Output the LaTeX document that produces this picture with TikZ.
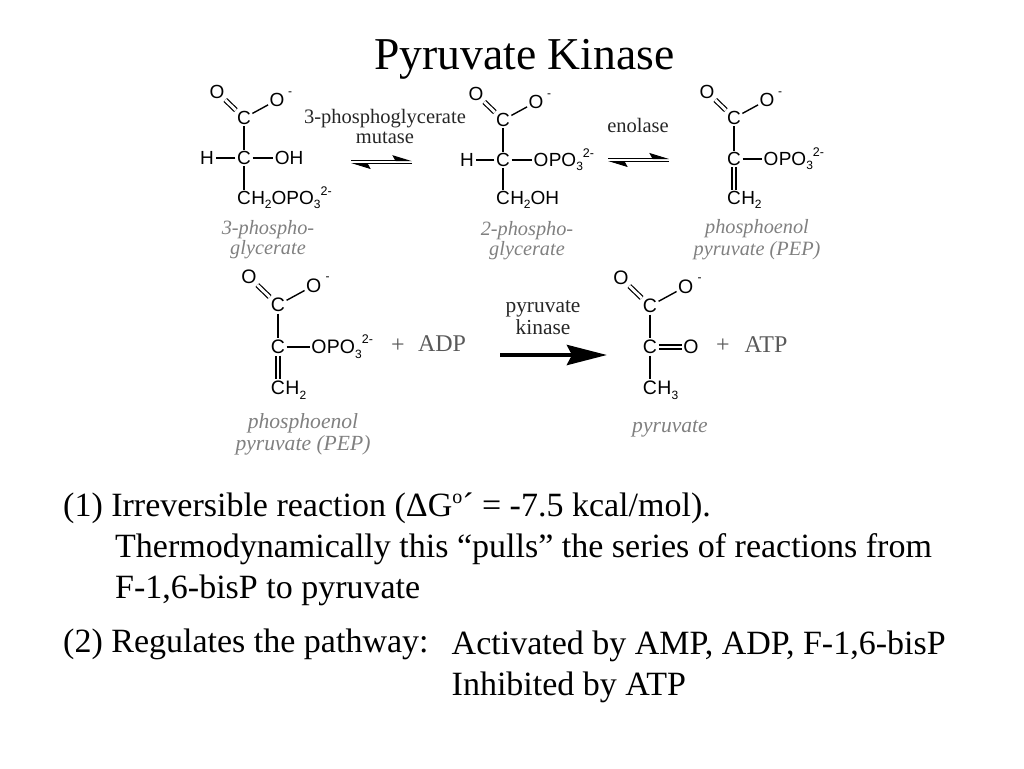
\documentclass[tikz,border=0pt]{standalone}
\usepackage{fontspec}
\setmainfont{Liberation Serif}
\setsansfont{Liberation Sans}
\usetikzlibrary{arrows.meta,positioning}
\newcommand{\subs}[1]{\raisebox{-0.22em}{\fontsize{12}{12}\selectfont #1}}
\newcommand{\sups}[1]{\raisebox{0.5em}{\fontsize{12.5}{12.5}\selectfont #1}}
\tikzset{
atom/.style={inner sep=0pt,font=\sffamily\fontsize{19}{19}\selectfont},
atomb/.style={inner sep=0pt,font=\sffamily\fontsize{19.5}{19.5}\selectfont},
tail/.style={anchor=base west},
charge/.style={inner sep=0pt,font=\sffamily\fontsize{12}{12}\selectfont},
bond/.style={line width=1.4pt,shorten >=1.5pt,shorten <=1.5pt},
dbond/.style={bond,double,double distance=2.8pt,line width=1.2pt},
enzyme/.style={inner sep=0pt,text height=.7em,text depth=.2em,text=black!85,font=\fontsize{20.5}{20.5}\selectfont},
label/.style={inner sep=0pt,text height=.7em,text depth=.2em,text=black!50,font=\itshape\fontsize{20.3}{20.3}\selectfont},
labelb/.style={label,font=\itshape\fontsize{21.6}{21.6}\selectfont},
other/.style={inner sep=0pt,text=black!65,font=\fontsize{24}{24}\selectfont},
note/.style={anchor=base west,inner sep=0pt,font=\fontsize{34}{34}\selectfont},
eqline/.style={line width=1pt,-{Stealth[harpoon,length=18pt,width=11pt,inset=3pt]}},
}
\begin{document}
\begin{tikzpicture}[x=1pt,y=-1pt]
\useasboundingbox (0,0) rectangle (1024,768);

% #1 prefix, #2 x, #3 y, #4 style, #5 scale of the offsets
\newcommand{\carboxyl}[5]
{
\node[#4] (#1c) at (#2,#3) {C};
\node[#4] (#1o) at (#2-27*#5,#3-26*#5) {O};
\node[#4] (#1m) at (#2+33*#5,#3-18*#5) {O};
\node[charge] (#1q) at (#2+46*#5,#3-24*#5) {-};
\draw[dbond] (#1c) -- (#1o);
\draw[bond] (#1c) -- (#1m);
}

\node[font=\fontsize{45.6}{45.6}\selectfont,inner sep=0pt] (title) at (524.5,59) {Pyruvate Kinase};

% 3-phosphoglycerate
\carboxyl{a}{244}{118}{atom}{1}
\node[atom] (ac2) at (244,158) {C};
\node[atom] (ah) at (207,158) {H};
\node[atom] (aoh) at (289,158) {OH};
\node[atom] (ac3) at (244,198) {C};
\node[atom,tail] (ar) at (ac3.base east) {H\subs{2}OPO\subs{3}\sups{2-}};
\draw[bond] (ac) -- (ac2);
\draw[bond] (ac2) -- (ah);
\draw[bond] (ac2) -- (aoh);
\draw[bond] (ac2) -- (ac3);
\node[label] (al1) at (268,232) {3-phospho-};
\node[label] (al2) at (268,252) {glycerate};

% mutase
\node[enzyme] (mut1) at (385,121) {3-phosphoglycerate};
\node[enzyme] (mut2) at (385,141) {mutase};
\coordinate (m1) at (351,160.7);
\coordinate (m2) at (412,160.7);
\coordinate (m3) at (412,163.5);
\coordinate (m4) at (351,163.5);
\draw[eqline] (m1) -- (m2);
\draw[eqline] (m3) -- (m4);

% 2-phosphoglycerate
\carboxyl{b}{503}{120}{atom}{1}
\node[atom] (bc2) at (503,160) {C};
\node[atom] (bh) at (467,160) {H};
\node[atom] (bo3) at (541,160) {O};
\node[atom,tail] (br) at (bo3.base east) {PO\subs{3}\sups{2-}};
\node[atom] (bc3) at (503,198) {C};
\node[atom,tail] (bt) at (bc3.base east) {H\subs{2}OH};
\draw[bond] (bc) -- (bc2);
\draw[bond] (bc2) -- (bh);
\draw[bond] (bc2) -- (bo3);
\draw[bond] (bc2) -- (bc3);
\node[label] (bl1) at (527,233) {2-phospho-};
\node[label] (bl2) at (527,253) {glycerate};

% enolase
\node[enzyme] (eno) at (638,130) {enolase};
\coordinate (e1) at (608,158.5);
\coordinate (e2) at (669,158.5);
\coordinate (e3) at (669,161.5);
\coordinate (e4) at (608,161.5);
\draw[eqline] (e1) -- (e2);
\draw[eqline] (e3) -- (e4);

% PEP
\carboxyl{c}{734}{118}{atom}{1}
\node[atom] (cc2) at (734,159) {C};
\node[atom] (co3) at (771,159) {O};
\node[atom,tail] (cr) at (co3.base east) {PO\subs{3}\sups{2-}};
\node[atom] (cc3) at (734,198) {C};
\node[atom,tail] (ct) at (cc3.base east) {H\subs{2}};
\draw[bond] (cc) -- (cc2);
\draw[bond] (cc2) -- (co3);
\draw[dbond] (cc2) -- (cc3);
\node[label] (cl1) at (757,231) {phosphoenol};
\node[label] (cl2) at (757,253) {pyruvate (PEP)};

% PEP + ADP
\carboxyl{d}{278}{305}{atomb}{1.08}
\node[atomb] (dc2) at (278,347) {C};
\node[atomb] (do3) at (319,347) {O};
\node[atomb,tail] (dr) at (do3.base east) {PO\subs{3}\sups{2-}};
\node[atomb] (dc3) at (278,388) {C};
\node[atomb,tail] (dt) at (dc3.base east) {H\subs{2}};
\draw[bond] (dc) -- (dc2);
\draw[bond] (dc2) -- (do3);
\draw[dbond] (dc2) -- (dc3);
\node[labelb] (dl1) at (303,426) {phosphoenol};
\node[labelb] (dl2) at (303,448) {pyruvate (PEP)};
\node[other] (dp) at (398,346) {+};
\node[other] (adp) at (442,344) {ADP};

% pyruvate kinase
\node[enzyme,font=\fontsize{21.4}{21.4}\selectfont] (kin1) at (543,310) {pyruvate};
\node[enzyme,font=\fontsize{21.4}{21.4}\selectfont] (kin2) at (543,332) {kinase};
\coordinate (k1) at (500,355);
\coordinate (k2) at (607,355);
\draw[line width=4.5pt,-{Stealth[length=40pt,width=20pt,inset=5pt]}] (k1) -- (k2);

% pyruvate + ATP
\carboxyl{f}{650}{306}{atomb}{1.08}
\node[atomb] (fc2) at (650,347) {C};
\node[atomb] (fo2) at (691,347) {O};
\node[atomb] (fc3) at (650,388) {C};
\node[atomb,tail] (ft) at (fc3.base east) {H\subs{3}};
\draw[bond] (fc) -- (fc2);
\draw[dbond] (fc2) -- (fo2);
\draw[bond] (fc2) -- (fc3);
\node[labelb] (fl) at (670,430) {pyruvate};
\node[other] (fp) at (723,346) {+};
\node[other] (atp) at (766,345) {ATP};

% text
\node[note] (n1) at (63,516) {(1) Irreversible reaction (ΔG\raisebox{0.38em}{\fontsize{20}{20}\selectfont o}´ = -7.5 kcal/mol).};
\node[note] (n2) at (115,557) {Thermodynamically this “pulls” the series of reactions from};
\node[note] (n3) at (115,598) {F-1,6-bisP to pyruvate};
\node[note] (n4) at (63,652.5) {(2) Regulates the pathway:};
\node[note] (n5) at (451.5,654) {Activated by AMP, ADP, F-1,6-bisP};
\node[note] (n6) at (451.5,695) {Inhibited by ATP};

\end{tikzpicture}
\end{document}
